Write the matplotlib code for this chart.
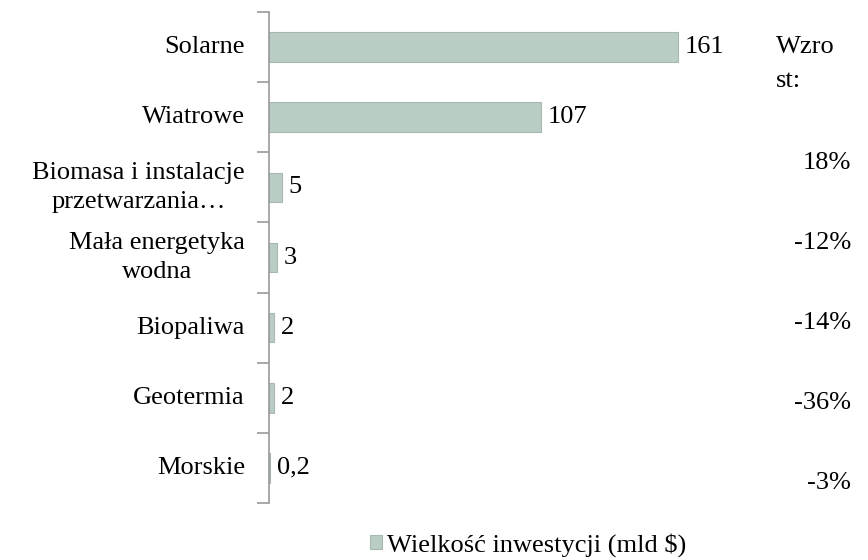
import matplotlib
matplotlib.use('Agg')
import matplotlib.pyplot as plt
from matplotlib.patches import Rectangle

plt.rcParams['font.family'] = ['Liberation Serif', 'DejaVu Serif']

categories = ['Solarne', 'Wiatrowe', 'Biomasa i instalacje\nprzetwarzania…',
              'Mała energetyka\nwodna', 'Biopaliwa', 'Geotermia', 'Morskie']
values = [161, 107, 5, 3, 2, 2, 0.2]
value_labels = ['161', '107', '5', '3', '2', '2', '0,2']
growth_title = 'Wzro\nst:'
growth = ['18%', '-12%', '-14%', '-36%', '-3%']
legend_label = 'Wielkość inwestycji (mld $)'

bar_color = '#b9cdc4'
edge_color = '#a7b8af'
axis_color = '#9a9a9a'
fs = 19

fig = plt.figure(figsize=(8.68, 5.6), dpi=100)
ax = fig.add_axes([269 / 868, 1 - 503 / 560, 470 / 868, 491 / 560])

ypos = list(range(len(categories)))
ax.barh(ypos, values, height=0.42, color=bar_color, edgecolor=edge_color, linewidth=0.8)
ax.set_ylim(len(categories) - 0.5, -0.5)
ax.set_xlim(0, 185)

for y, v, lab in zip(ypos, values, value_labels):
    ax.text(v + 2.8, y, lab, va='center', ha='left', fontsize=fs)

for s in ['top', 'right', 'bottom']:
    ax.spines[s].set_visible(False)
ax.spines['left'].set_color(axis_color)
ax.spines['left'].set_linewidth(1.2)
ax.set_xticks([])
ax.set_yticks([y - 0.5 for y in ypos] + [len(categories) - 0.5])
ax.set_yticklabels([])
ax.tick_params(axis='y', length=9, width=1.2, color=axis_color, direction='out')

for y, c in zip(ypos, categories):
    ax.text(-9.5, y, c, ha='right', va='center', multialignment='center',
            fontsize=fs, linespacing=1.4)

fig.text(776 / 868, 1 - 64 / 560, growth_title, ha='left', va='center',
         fontsize=fs, linespacing=1.75)
for i, g in enumerate(growth):
    fig.text(851 / 868, 1 - (163 + 80 * i) / 560, g, ha='right', va='center', fontsize=fs)

handle = Rectangle((0, 0), 1, 1, facecolor=bar_color, edgecolor=edge_color, linewidth=0.8)
fig.legend([handle], [legend_label], loc='center', bbox_to_anchor=(528 / 868, 1 - 545 / 560),
           frameon=False, fontsize=fs, handlelength=0.45, handleheight=0.45, handletextpad=0.2)

fig.savefig('out.png', dpi=100)
